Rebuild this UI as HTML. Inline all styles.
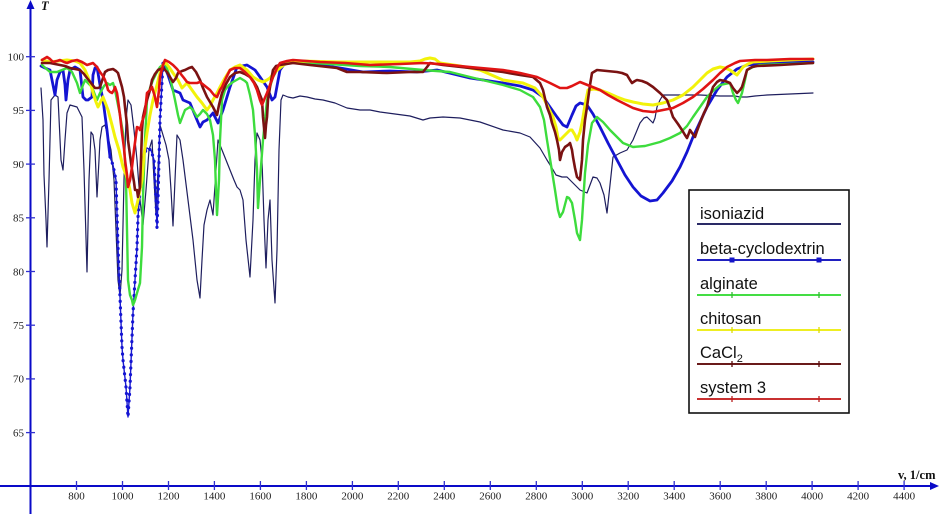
<!DOCTYPE html>
<html>
<head>
<meta charset="utf-8">
<style>
html,body{margin:0;padding:0;background:#fff;}
svg{display:block;}
.tl{font-family:"Liberation Serif",serif;font-size:11px;fill:#222;}
.lg{font-family:"Liberation Sans",sans-serif;font-size:16.5px;fill:#111;}
</style>
</head>
<body>
<svg width="939" height="514" viewBox="0 0 939 514" xmlns="http://www.w3.org/2000/svg">
<rect width="939" height="514" fill="#fff"/>

<!-- series -->
<g fill="none" stroke-linejoin="round" stroke-linecap="round">
<!-- isoniazid -->
<polyline stroke="#1e1e5e" stroke-width="1.2" points="41,88 43,120 44,175 46,220 47,247 49,180 51,100 55,95 58,97 61,160 63,170 65,140 67,113 70,105 77,107 82,117 84,170 87,272 89,180 91,132 93,135 95,150 97,197 99,160 100,140 102,127 105,125 108,137 111,150 114,180 116,230 118,280 120,296 122,270 124,180 126,120 128,100 131,105 134,130 137,160 140,200 143,225 146,190 149,150 152,140 154,180 156,215 158,170 160,125 163,135 166,145 169,160 171,190 173,226 175,180 177,135 180,140 183,160 188,200 193,240 197,280 200,298 202,260 204,225 207,210 210,200 213,215 216,170 218,140 222,150 226,160 230,170 234,180 237,187 240,190 243,200 246,240 250,277 253,220 255,160 257,133 260,140 262,160 264,220 266,268 268,220 270,200 272,260 275,303 277,250 279,150 281,100 283,95 288,97 293,98 300,96 307,97 315,99 323,100 335,103 347,108 360,110 370,110 380,112 395,114 410,116 423,120 430,118 443,117 460,118 480,122 503,130 520,133 530,137 540,148 547,160 552,168 556,175 562,177 567,177 573,183 580,190 587,193 590,185 593,177 597,178 600,183 604,195 607,213 610,185 613,157 620,153 627,150 633,140 640,123 644,118 647,117 650,120 653,123 655,118 657,107 660,100 663,95 680,95 700,95 720,96 735,96 740,97 747,97 755,96 767,95 790,94 813,93"/>
<!-- beta-cyclodextrin -->
<polyline stroke="#1414d2" stroke-width="2.8" points="41,66 45,68 50,70 53,85 55,95 57,80 60,72 63,70 65,85 66,100 68,80 70,70 75,67 80,70 83,97 86,100 88,100 92,97 93,75 95,68 97,67 100,85 103,100 107,130 110,157"/>
<polyline stroke="#1a1ad0" stroke-width="1.4" points="110,157 113,165 116,180 118,247 120,297 122,347 123,360 126,387 128,417 130,387 133,313 137,247 138,217 140,190 143,157 147,148 151,150 154,160 156,200 157,228 158,200 160,120 163,63"/>
<polyline stroke="#1414d2" stroke-width="3.2" stroke-dasharray="0.1 6.5" points="110,157 113,165 116,180 118,247 120,297 122,347 123,360 126,387 128,417 130,387 133,313 137,247 138,217 140,190 143,157 147,148 151,150 154,160 156,200 157,228 158,200 160,120 163,63"/>
<polyline stroke="#1414d2" stroke-width="2.8" points="163,63 168,75 173,90 180,93 183,100 190,103 197,120 200,127 203,122 207,120 213,113 218,123 223,110 230,87 237,67 247,65 255,70 260,77 267,87 272,100 275,97 280,70 285,63 290,62 300,63 320,65 340,68 363,72 390,71 417,72 437,70 470,78 503,83 520,86 533,90 543,97 550,107 557,117 563,125 567,127 572,115 576,106 580,103 587,105 593,114 600,127 608,143 617,160 625,175 633,187 641,196 650,201 657,200 663,193 672,181 680,167 687,152 693,137 700,122 707,107 717,90 727,77 737,69 747,65 767,63 790,62 813,62"/>
<!-- alginate -->
<polyline stroke="#3ddc3d" stroke-width="2.4" points="42,65 50,72 57,72 62,70 67,68 72,72 77,83 80,93 83,85 85,80 90,85 92,87 95,95 97,100 100,93 104,86 107,83 110,85 113,83 115,90 117,100 120,115 123,133 125,160 126,180 128,280 130,295 132,300 133,305 135,300 137,293 140,283 142,247 143,197 145,140 147,100 150,88 153,80 157,72 160,67 165,63 170,77 175,100 178,115 180,123 185,110 190,107 193,110 197,117 200,114 203,110 207,114 210,120 213,135 215,160 216,190 217,215 219,180 220,140 222,100 225,90 229,85 233,82 240,78 245,81 247,83 250,95 253,110 255,135 257,170 258,208 260,180 263,140 267,100 270,87 273,77 277,70 280,67 290,62 300,62 330,64 360,66 390,67 423,70 450,72 470,77 503,85 520,90 533,97 540,107 544,120 547,140 551,165 555,190 558,210 560,217 563,212 567,197 569,198 572,203 575,220 577,233 580,240 582,220 585,173 588,145 592,123 597,117 603,122 610,130 617,137 623,143 633,147 645,146 660,142 670,138 680,133 687,126 693,117 700,107 707,97 713,91 720,85 730,83 733,93 736,100 738,103 740,98 742,93 745,80 747,70 753,67 760,65 790,64 813,63"/>
<!-- chitosan -->
<polyline stroke="#f2f20a" stroke-width="3" points="42,60 50,62 58,61 67,60 75,61 80,63 85,70 88,77 91,85 93,93 96,102 98,107 100,103 103,97 105,102 108,110 112,125 115,137 119,150 123,167 126,175 128,180 130,190 132,203 135,213 138,200 142,180 144,155 147,133 150,115 153,100 157,85 160,73 163,65 165,62 169,67 173,73 178,80 182,88 185,85 187,83 192,90 197,97 202,103 207,110 210,106 213,100 217,93 220,87 225,78 230,70 235,67 240,65 247,70 253,77 258,80 263,82 267,80 270,78 275,72 280,68 285,64 290,62 300,61 340,62 380,62 410,62 420,61 425,59 430,58 435,59 440,63 460,66 480,70 503,80 523,83 535,88 543,97 548,107 553,117 556,127 558,138 560,140 563,137 567,133 570,130 572,130 575,135 577,140 580,132 582,123 585,105 588,90 594,89 600,90 608,93 617,97 625,100 633,102 643,104 653,105 663,103 673,100 683,95 693,87 700,80 707,73 713,69 720,67 725,68 730,70 734,73 737,75 740,71 743,67 748,64 753,62 770,61 790,60 813,59"/>
<!-- CaCl2 -->
<polyline stroke="#7a1212" stroke-width="2.6" points="42,63 50,63 55,64 60,65 65,66 70,68 75,69 80,70 84,74 87,78 91,83 95,88 98,88 100,87 103,78 105,72 108,70 113,69 116,71 118,73 120,80 122,87 124,97 125,107 127,125 128,140 130,155 132,170 134,182 135,190 137,190 138,197 140,187 141,160 142,130 143,117 145,108 147,100 150,90 152,80 155,74 158,70 163,68 167,72 170,77 173,82 176,78 178,73 182,71 185,70 189,68 192,67 196,72 200,80 203,88 207,97 210,102 213,107 217,115 219,105 222,93 226,84 230,77 235,73 240,72 245,74 250,77 254,82 257,87 260,95 262,100 263,117 265,138 266,125 267,117 268,100 270,87 273,70 276,66 280,65 293,63 310,65 337,68 347,72 360,72 387,73 410,72 423,72 427,67 430,63 436,64 443,65 470,68 503,72 520,75 533,77 540,83 543,90 547,107 550,115 552,123 555,132 557,140 559,150 560,160 562,152 565,147 568,145 570,143 572,150 573,157 575,168 577,177 580,180 582,160 583,140 585,120 587,107 590,85 592,73 597,70 607,71 617,72 622,73 627,75 630,80 632,83 635,81 637,80 642,81 647,83 653,87 660,93 667,100 670,108 673,117 678,124 682,130 685,135 687,138 689,133 690,130 692,133 695,137 697,131 700,123 704,113 707,107 710,96 713,87 717,82 720,80 725,81 730,83 733,88 737,93 740,90 742,87 745,77 747,70 752,67 757,66 780,65 813,63"/>
<!-- system 3 -->
<polyline stroke="#e01414" stroke-width="2.6" points="42,60 47,57 50,59 53,62 57,61 60,60 64,62 67,63 72,61 77,60 82,62 87,65 90,64 93,63 97,67 100,72 103,76 105,80 107,86 108,90 110,92 112,93 114,90 115,87 117,93 118,100 120,115 122,133 124,148 125,160 127,175 128,187 130,180 132,167 134,150 136,135 137,127 139,128 140,130 142,122 145,113 147,93 150,90 152,87 155,97 157,107 159,90 160,77 163,65 165,60 169,62 173,65 177,69 180,73 184,78 187,82 190,83 193,83 197,83 200,82 205,86 210,90 214,95 217,97 220,90 222,87 226,78 230,70 235,68 240,68 245,72 250,77 254,83 257,90 260,100 262,105 264,100 267,93 270,85 273,77 277,68 280,63 287,61 293,60 320,62 345,63 370,65 400,64 423,63 440,64 470,67 503,70 520,73 537,77 550,83 560,88 567,88 572,86 576,84 580,82 585,84 590,86 600,90 608,95 617,100 625,104 633,108 643,111 653,112 663,110 673,108 683,103 693,97 703,89 713,80 720,73 727,67 735,63 740,61 755,60 767,60 790,59 813,59"/>
</g>

<!-- axes -->
<g stroke="#0a0ac8" stroke-width="2" fill="none">
<line x1="30.5" y1="4" x2="30.5" y2="514"/>
<line x1="0" y1="486" x2="934" y2="486"/>
</g>
<polygon points="30.5,0 26.5,9 34.5,9" fill="#0a0ac8"/>
<polygon points="939,486 930,482 930,490" fill="#0a0ac8"/>

<!-- y ticks -->
<g stroke="#3030d0" stroke-width="1.3">
<line x1="26" y1="56.7" x2="35" y2="56.7"/>
<line x1="26" y1="110.4" x2="35" y2="110.4"/>
<line x1="26" y1="164.1" x2="35" y2="164.1"/>
<line x1="26" y1="217.8" x2="35" y2="217.8"/>
<line x1="26" y1="271.5" x2="35" y2="271.5"/>
<line x1="26" y1="325.2" x2="35" y2="325.2"/>
<line x1="26" y1="378.9" x2="35" y2="378.9"/>
<line x1="26" y1="432.6" x2="35" y2="432.6"/>
</g>
<g class="tl" text-anchor="end">
<text x="24" y="60.5">100</text>
<text x="24" y="114.2">95</text>
<text x="24" y="167.9">90</text>
<text x="24" y="221.6">85</text>
<text x="24" y="275.3">80</text>
<text x="24" y="329">75</text>
<text x="24" y="382.7">70</text>
<text x="24" y="436.4">65</text>
</g>

<!-- x ticks -->
<g stroke="#3030d0" stroke-width="1.3">
<line x1="76.5" y1="481" x2="76.5" y2="490"/>
<line x1="122.5" y1="481" x2="122.5" y2="490"/>
<line x1="168.5" y1="481" x2="168.5" y2="490"/>
<line x1="214.4" y1="481" x2="214.4" y2="490"/>
<line x1="260.4" y1="481" x2="260.4" y2="490"/>
<line x1="306.4" y1="481" x2="306.4" y2="490"/>
<line x1="352.4" y1="481" x2="352.4" y2="490"/>
<line x1="398.3" y1="481" x2="398.3" y2="490"/>
<line x1="444.3" y1="481" x2="444.3" y2="490"/>
<line x1="490.3" y1="481" x2="490.3" y2="490"/>
<line x1="536.3" y1="481" x2="536.3" y2="490"/>
<line x1="582.3" y1="481" x2="582.3" y2="490"/>
<line x1="628.2" y1="481" x2="628.2" y2="490"/>
<line x1="674.2" y1="481" x2="674.2" y2="490"/>
<line x1="720.2" y1="481" x2="720.2" y2="490"/>
<line x1="766.2" y1="481" x2="766.2" y2="490"/>
<line x1="812.1" y1="481" x2="812.1" y2="490"/>
<line x1="858.1" y1="481" x2="858.1" y2="490"/>
<line x1="904.1" y1="481" x2="904.1" y2="490"/>
</g>
<g class="tl" text-anchor="middle">
<text x="76.5" y="499.5">800</text>
<text x="122.5" y="499.5">1000</text>
<text x="168.5" y="499.5">1200</text>
<text x="214.4" y="499.5">1400</text>
<text x="260.4" y="499.5">1600</text>
<text x="306.4" y="499.5">1800</text>
<text x="352.4" y="499.5">2000</text>
<text x="398.3" y="499.5">2200</text>
<text x="444.3" y="499.5">2400</text>
<text x="490.3" y="499.5">2600</text>
<text x="536.3" y="499.5">2800</text>
<text x="582.3" y="499.5">3000</text>
<text x="628.2" y="499.5">3200</text>
<text x="674.2" y="499.5">3400</text>
<text x="720.2" y="499.5">3600</text>
<text x="766.2" y="499.5">3800</text>
<text x="812.1" y="499.5">4000</text>
<text x="858.1" y="499.5">4200</text>
<text x="904.1" y="499.5">4400</text>
</g>

<text x="41" y="10" font-family="Liberation Serif, serif" font-size="12.5" font-weight="bold" font-style="italic" fill="#111">T</text>
<text x="898" y="479" font-family="Liberation Serif, serif" font-size="12.5" font-weight="bold" fill="#111">v, 1/cm</text>

<!-- legend -->
<rect x="689" y="190" width="160" height="223" fill="#fff" stroke="#111" stroke-width="1.6"/>
<g class="lg">
<text x="700" y="219">isoniazid</text>
<text x="700" y="254">beta-cyclodextrin</text>
<text x="700" y="289">alginate</text>
<text x="700" y="324">chitosan</text>
<text x="700" y="358">CaCl<tspan font-size="11" dy="4">2</tspan></text>
<text x="700" y="393">system 3</text>
</g>
<g stroke-width="2" fill="none">
<line x1="697" y1="224" x2="841" y2="224" stroke="#2a2a66"/>
<line x1="697" y1="260" x2="841" y2="260" stroke="#2020c0"/>
<line x1="697" y1="295" x2="841" y2="295" stroke="#44dd44"/>
<line x1="697" y1="330" x2="841" y2="330" stroke="#eeee22"/>
<line x1="697" y1="364" x2="841" y2="364" stroke="#6a1a1a"/>
<line x1="697" y1="399" x2="841" y2="399" stroke="#c83030"/>
</g>
<g fill="#1414c8">
<rect x="729.5" y="257.5" width="5" height="5"/>
<rect x="816.5" y="257.5" width="5" height="5"/>
</g>
<g stroke-width="1.3">
<line x1="732" y1="292" x2="732" y2="298" stroke="#33bb33"/>
<line x1="819" y1="292" x2="819" y2="298" stroke="#33bb33"/>
<line x1="732" y1="327" x2="732" y2="333" stroke="#dddd00"/>
<line x1="819" y1="327" x2="819" y2="333" stroke="#dddd00"/>
<line x1="732" y1="361" x2="732" y2="367" stroke="#5a0a0a"/>
<line x1="819" y1="361" x2="819" y2="367" stroke="#5a0a0a"/>
<line x1="732" y1="396" x2="732" y2="402" stroke="#b82020"/>
<line x1="819" y1="396" x2="819" y2="402" stroke="#b82020"/>
</g>
</svg>
</body>
</html>
